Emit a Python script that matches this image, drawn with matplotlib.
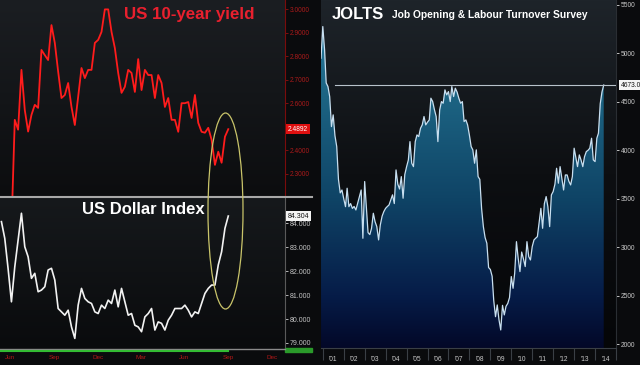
import numpy as np
import pandas as pd
import matplotlib
matplotlib.use("Agg")
import matplotlib.pyplot as plt
import matplotlib.dates as mdates
import matplotlib.transforms as mtransforms
from matplotlib.colors import LinearSegmentedColormap
from matplotlib.patches import Ellipse, Rectangle
from matplotlib.lines import Line2D

plt.rcParams['font.family'] = ['Liberation Sans', 'DejaVu Sans']

# ---- data ----
week_dates = pd.date_range('2013-05-27', periods=69, freq='7D')

dollar_index = [84.07, 83.37, 82.10, 80.72, 82.18, 83.30, 84.42, 83.02, 82.60, 81.70,
                81.91, 81.14, 81.21, 81.35, 82.05, 82.12, 81.63, 80.44, 80.30, 80.16,
                80.37, 79.67, 79.19, 80.58, 81.28, 80.86, 80.72, 80.65, 80.30, 80.23,
                80.58, 80.44, 80.79, 80.65, 81.21, 80.51, 81.28, 80.72, 80.16, 80.23,
                79.74, 79.67, 79.47, 80.09, 80.23, 80.44, 79.54, 79.88, 79.82, 79.54,
                79.95, 80.16, 80.44, 80.44, 80.44, 80.58, 80.37, 80.09, 80.30, 80.23,
                80.65, 81.07, 81.28, 81.42, 81.42, 82.26, 82.81, 83.79, 84.304]

yield_dates = week_dates[3:]
us10y = [2.06, 2.529, 2.487, 2.742, 2.571, 2.479, 2.55, 2.593, 2.58, 2.827, 2.805,
         2.784, 2.933, 2.857, 2.735, 2.622, 2.635, 2.686, 2.584, 2.507, 2.627,
         2.75, 2.707, 2.742, 2.742, 2.857, 2.87, 2.904, 3.0, 3.0, 2.904,
         2.835, 2.729, 2.644, 2.67, 2.742, 2.729, 2.648, 2.788, 2.656, 2.742,
         2.72, 2.72, 2.622, 2.72, 2.686, 2.584, 2.622, 2.529, 2.529, 2.478,
         2.6, 2.6, 2.605, 2.537, 2.635, 2.516, 2.478, 2.474, 2.495, 2.444,
         2.337, 2.393, 2.346, 2.457, 2.4892]

month_ticks = pd.to_datetime(['2013-06-15', '2013-09-15', '2013-12-15', '2014-03-15',
                              '2014-06-15', '2014-09-15', '2014-12-15'])
month_labels = ['Jun', 'Sep', 'Dec', 'Mar', 'Jun', 'Sep', 'Dec']
yield_ticks = [2.3, 2.4, 2.6, 2.7, 2.8, 2.9, 3.0]
dollar_ticks = [79, 80, 81, 82, 83, 84]

jolts = [4950,
         5276, 5036, 4695, 4657, 4554, 4244, 4365, 4150, 4038, 3700, 3560, 3590,
         3500, 3418, 3608, 3418, 3450, 3400, 3420, 3384, 3453, 3520, 3590, 3092,
         3677, 3400, 3150, 3130, 3195, 3350, 3264, 3212, 3075, 3230, 3320, 3367,
         3401, 3420, 3436, 3488, 3540, 3450, 3797, 3650, 3600, 3728, 3505, 3750,
         3830, 3900, 4089, 3866, 3831, 4089, 4158, 4141, 4227, 4262, 4348, 4262,
         4290, 4313, 4537, 4502, 4420, 4348, 4089, 4416, 4502, 4485, 4623, 4571,
         4605, 4502, 4657, 4554, 4640, 4600, 4537, 4485, 4502, 4296, 4313, 4262,
         4158, 4038, 4004, 3866, 4004, 3728, 3700, 3400, 3212, 3100, 3040, 2790,
         2770, 2700, 2450, 2283, 2404, 2249, 2146, 2400, 2301, 2390, 2420, 2480,
         2697, 2576, 2731, 3057, 2886, 2748, 2950, 2880, 2800, 3057, 2903, 2868,
         3006, 3075, 3092, 3109, 3250, 3401, 3195, 3450, 3522, 3418, 3212, 3539,
         3574, 3650, 3814, 3660, 3831, 3711, 3590, 3745, 3745, 3680, 3642, 3728,
         4021, 3918, 3831, 3952, 3900, 3831, 3934, 3986, 4000, 4021, 4124, 3900,
         3883, 4124, 4176, 4480, 4600, 4673]
jolts_months = pd.date_range('2000-12-01', periods=len(jolts), freq='MS')
jolts_last = 4673.0
jolts_ticks = [2000, 2500, 3000, 3500, 4000, 4500, 5000, 5500]
jolts_years = list(range(2001, 2015))
jolts_year_labels = ["'%02d" % (y % 100) for y in jolts_years]

BG = '#0a0b0d'


def gradient(ax, colors, zorder=0):
    x0, x1 = ax.get_xlim()
    y0, y1 = ax.get_ylim()
    cmap = LinearSegmentedColormap.from_list('g', colors)
    im = ax.imshow(np.linspace(0, 1, 256).reshape(-1, 1), cmap=cmap, aspect='auto',
                   extent=(x0, x1, y0, y1), origin='lower', zorder=zorder)
    ax.set_xlim(x0, x1)
    ax.set_ylim(y0, y1)
    return im


fig = plt.figure(figsize=(6.4, 3.65), dpi=100, facecolor=BG)
ax_y = fig.add_axes([0, 0.4603, 0.4453, 0.5397])
ax_d = fig.add_axes([0, 0.0466, 0.4453, 0.4137])
ax_j = fig.add_axes([0.5016, 0.0466, 0.4609, 0.9534])

left_lim = (pd.Timestamp('2013-05-24'), pd.Timestamp('2015-01-12'))

# ---- US 10-year yield ----
ax_y.plot(yield_dates, us10y, color='#ff1c1c', lw=1.3, zorder=3)
ax_y.set_xlim(*left_lim)
ax_y.set_ylim(2.2, 3.04)
gradient(ax_y, ['#0c0d0f', '#1b1e22'])
ax_y.yaxis.tick_right()
ax_y.set_yticks(yield_ticks, ['%.4f' % v for v in yield_ticks])
ax_y.tick_params(axis='y', colors='#8e1212', labelcolor='#a81a1a', labelsize=4.8,
                 length=2, width=0.6, pad=1.5)
ax_y.set_xticks([])
for s in ['top', 'bottom', 'left']:
    ax_y.spines[s].set_visible(False)
ax_y.spines['right'].set_color('#7a0c0c')
ax_y.text(0.435, 0.925, 'US 10-year yield', transform=ax_y.transAxes, color='#e8202e',
          fontsize=12.2, fontweight='bold', ha='left', va='center')
trans_y = mtransforms.blended_transform_factory(ax_y.transAxes, ax_y.transData)
ax_y.text(1.01, us10y[-1], '%.4f' % us10y[-1], transform=trans_y, color='white',
          fontsize=4.8, ha='left', va='center',
          bbox=dict(boxstyle='square,pad=0.25', fc='#e01010', ec='none'))

# ---- US Dollar Index ----
ax_d.plot(week_dates, dollar_index, color='#f2f2f2', lw=1.2, zorder=3)
ax_d.set_xlim(*left_lim)
ax_d.set_ylim(78.79, 85.1)
gradient(ax_d, ['#0a0b0d', '#16191c'])
ax_d.yaxis.tick_right()
ax_d.set_yticks(dollar_ticks, ['%.3f' % v for v in dollar_ticks])
ax_d.tick_params(axis='y', colors='#d0d0d0', labelcolor='#c4c4c4', labelsize=5,
                 length=2, width=0.6, pad=1.5)
ax_d.set_xticks(month_ticks, month_labels)
ax_d.tick_params(axis='x', colors='#b01818', labelsize=4.6, length=0, pad=5)
for s in ['top', 'bottom', 'left']:
    ax_d.spines[s].set_visible(False)
ax_d.spines['right'].set_color('#5a5a5a')
ax_d.text(0.288, 0.92, 'US Dollar Index', transform=ax_d.transAxes, color='white',
          fontsize=12, fontweight='bold', ha='left', va='center')
trans_d = mtransforms.blended_transform_factory(ax_d.transAxes, ax_d.transData)
ax_d.text(1.01, dollar_index[-1], '%.3f' % dollar_index[-1], transform=trans_d,
          color='#111111', fontsize=5, ha='left', va='center',
          bbox=dict(boxstyle='square,pad=0.2', fc='#f4f4f4', ec='none'))

# ---- JOLTS ----
ax_j.set_xlim(pd.Timestamp('2000-12-01'), pd.Timestamp('2015-01-01'))
ax_j.set_ylim(1960, 5550)
gradient(ax_j, ['#050608', '#0d0f12', '#1e242a'])
ylo = ax_j.get_ylim()[0]
poly = ax_j.fill_between(jolts_months, jolts, ylo, color='none', lw=0)
fill_im = gradient(ax_j, [(0, '#030828'), (0.15, '#061c48'), (0.43, '#0f4466'),
                          (0.735, '#1d6584'), (1.0, '#2a80a5')], zorder=1)
fill_im.set_clip_path(poly.get_paths()[0], transform=ax_j.transData)
ax_j.plot(jolts_months, jolts, color='#c8dff0', lw=0.9, zorder=3)
ax_j.axhline(jolts_last, xmin=0.047, color='#b8c2ca', lw=0.8, zorder=4)

ax_j.yaxis.tick_right()
ax_j.set_yticks(jolts_ticks, [str(v) for v in jolts_ticks])
ax_j.tick_params(axis='y', colors='#e0e0e0', labelcolor='#c8c8c8', labelsize=4.8,
                 length=2, width=0.6, pad=1.5)
ax_j.set_xticks([pd.Timestamp(y, 7, 1) for y in jolts_years], jolts_year_labels)
ax_j.set_xticks([pd.Timestamp(y, 1, 1) for y in jolts_years + [2015]], minor=True)
ax_j.tick_params(axis='x', which='major', colors='#c8c8c8', labelsize=4.8, length=0, pad=6)
ax_j.tick_params(axis='x', which='minor', colors='#3a3f45', length=8.5, width=0.8)
for s in ['top', 'left']:
    ax_j.spines[s].set_visible(False)
ax_j.spines['bottom'].set_color('#3a3f45')
ax_j.spines['right'].set_color('#2a2e33')
ax_j.text(0.037, 0.958, 'JOLTS', transform=ax_j.transAxes, color='white',
          fontsize=12, fontweight='bold', ha='left', va='center')
ax_j.text(0.24, 0.958, 'Job Opening & Labour Turnover Survey', transform=ax_j.transAxes,
          color='white', fontsize=7.4, fontweight='bold', ha='left', va='center')
trans_j = mtransforms.blended_transform_factory(ax_j.transAxes, ax_j.transData)
ax_j.text(1.015, jolts_last, '%.1f' % jolts_last, transform=trans_j, color='#111111',
          fontsize=4.8, ha='left', va='center',
          bbox=dict(boxstyle='square,pad=0.2', fc='#f4f4f4', ec='none'))

# ---- decorations ----
fig.add_artist(Line2D([0, 312 / 640], [0.4603, 0.4603], color='#a8a8a8', lw=1.5))
fig.add_artist(Line2D([0, 285 / 640], [1 - 348.5 / 365] * 2, color='#8a8a8a', lw=1))
fig.add_artist(Line2D([0, 228 / 640], [1 - 350.5 / 365] * 2, color='#33bb33', lw=1.5))
fig.add_artist(Rectangle((285 / 640, 1 - 352 / 365), 27 / 640, 4 / 365,
                         color='#2a9a2a', transform=fig.transFigure))
fig.add_artist(Ellipse((225.5 / 640, 1 - 211 / 365), 35 / 640, 196 / 365, fc='none',
                       ec='#c9c46a', lw=0.9, transform=fig.transFigure, zorder=10))

fig.savefig('out.png', dpi=100, facecolor=BG)
